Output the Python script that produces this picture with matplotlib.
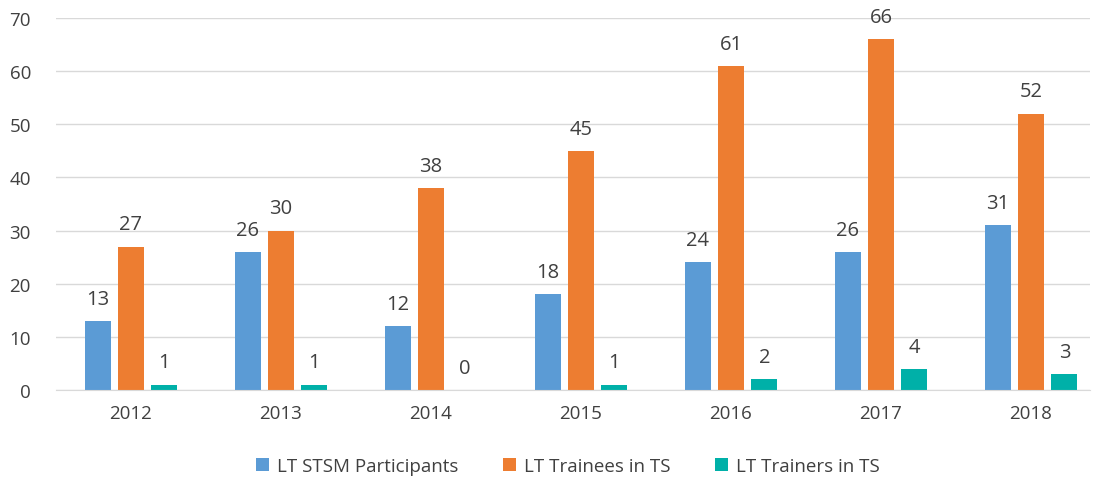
import matplotlib
matplotlib.use("Agg")
import matplotlib.pyplot as plt
import numpy as np

years = ["2012", "2013", "2014", "2015", "2016", "2017", "2018"]
stsm = [13, 26, 12, 18, 24, 26, 31]
trainees = [27, 30, 38, 45, 61, 66, 52]
trainers = [1, 1, 0, 1, 2, 4, 3]
series_names = ["LT STSM Participants", "LT Trainees in TS", "LT Trainers in TS"]
colors = ["#5B9BD5", "#ED7D31", "#00B0A8"]

plt.rcParams['font.family'] = ['Open Sans', 'DejaVu Sans']

fig = plt.figure(figsize=(10.94, 4.81), dpi=100)
ax = fig.add_axes([56/1094, 1 - 391/481, (1090-56)/1094, (391-19)/481])

x = np.arange(len(years))
bw = 0.173
step = 0.223
text_color = "#404040"
for i, (vals, name, c) in enumerate(zip([stsm, trainees, trainers], series_names, colors)):
    pos = x + (i - 1) * step
    ax.bar(pos, vals, width=bw, color=c, label=name, zorder=3)
    for p, v in zip(pos, vals):
        ax.text(p, v + 2.3, str(v), ha='center', va='bottom', fontsize=14.5, color=text_color)

ax.set_xlim(-0.5, (1090 - 131) / 150)
ax.set_ylim(0, 70)
ax.set_yticks(range(0, 71, 10))
ax.set_xticks(x)
ax.set_xticklabels(years)
ax.tick_params(axis='both', length=0, labelsize=13.5, colors=text_color)
ax.tick_params(axis='x', pad=10)
ax.tick_params(axis='y', pad=18)
ax.yaxis.grid(True, color="#D9D9D9", linewidth=1, zorder=0)
for s in ['top', 'right', 'left']:
    ax.spines[s].set_visible(False)
ax.spines['bottom'].set_color("#D9D9D9")
ax.spines['bottom'].set_zorder(4)

fig.legend(loc='center', bbox_to_anchor=(568/1094, 1 - 467/481), ncol=3, frameon=False,
           fontsize=13.5, handlelength=0.7, handleheight=0.7, handletextpad=0.4,
           columnspacing=2.4, labelcolor=text_color)

fig.savefig("out.png", dpi=100)
